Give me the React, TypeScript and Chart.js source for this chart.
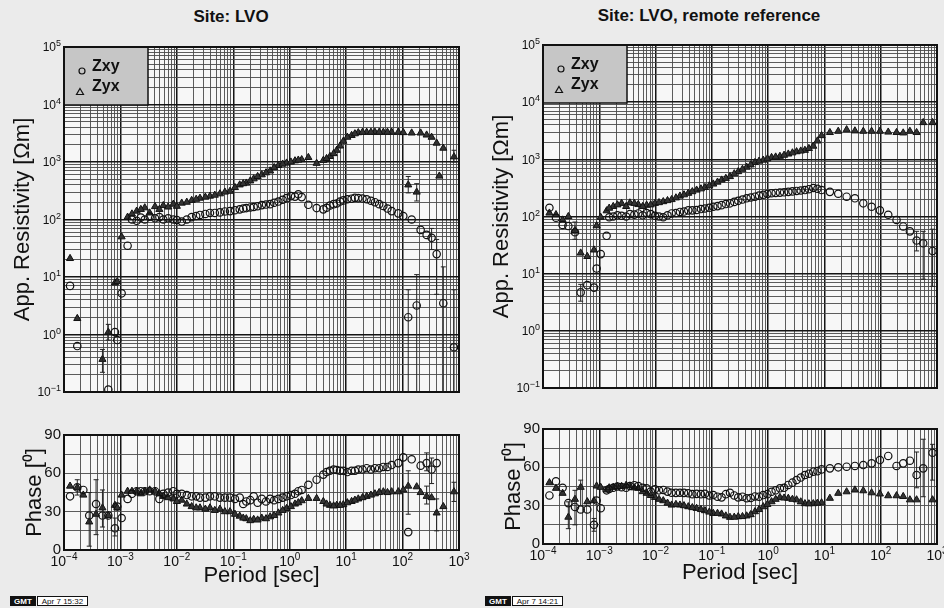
import React, { useEffect, useRef } from 'react';
import { Chart, registerables } from 'chart.js';

Chart.register(...registerables);

const FONT = "'Liberation Sans', Arial, Helvetica, sans-serif";
Chart.defaults.font.family = FONT;

// ---------------- DATA ----------------
// Site LVO (single site) — main band
const lvoPeriod = [1.28e-4, 1.72e-4, 2.2e-4, 2.8e-4, 3.7e-4, 4.8e-4, 6.1e-4, 8.0e-4, 8.8e-4, 1.05e-3, 1.34e-3, 1.94e-3, 2.7e-3, 4.1e-3, 5.75e-3, 8.65e-3, 1.22e-2, 1.83e-2, 2.57e-2, 3.86e-2, 5.8e-2, 8.75e-2, 0.13, 0.17, 0.23, 0.32, 0.45, 0.63, 0.88, 1.24, 1.63, 2.14, 3.0, 3.94, 5.17, 6.8, 8.9, 12.5, 16.4, 23.1, 32.4, 45.6, 64.1, 84, 103, 126, 145, 178, 209, 267, 327, 402, 448, 527, 815];
const lvoRhoXY = [7.0, 0.63, null, null, null, null, 0.11, 1.1, 0.8, 5.2, 35, 95, 100, 105, 100, 100, 92, 110, 120, 130, 133, 140, 150, 158, 165, 178, 185, 205, 235, 250, 245, 180, 158, 150, 175, 190, 215, 230, 235, 225, 200, 172, 140, 128, 115, 2.0, 100, 3.2, 66, 54, 48, 25, null, 3.5, 0.6];
const lvoRhoYX = [21, 1.9, null, null, null, 0.37, 1.1, 7.9, 8.3, 50, 110, 140, 160, 168, 175, 185, 193, 215, 235, 255, 280, 310, 400, 430, 510, 600, 700, 870, 960, 1050, 1100, 1200, 950, 1070, 1250, 1600, 2300, 2900, 3240, 3300, 3300, 3300, 3300, 3300, 3250, 400, 3200, 300, 3200, 2950, 2700, 2130, 570, 1740, 1230];
const lvoPhXY = [42, 49, 47, 27, 36, 27, 27, 17, 34, 25, 40, 46, 46, 46, 44, 46, 44, 42, 41, 42, 41, 41, 41, 38, 42, 40, 40, 40, 42, 44, 47, 51, 55, 59, 62, 62.6, 62, 62, 63, 64, 64, 65, 66.5, 68, 72.5, 14, 71, null, 66, 68, 63, 68, null, null, null];
const lvoPhYX = [50, 49, 43, 22, 28, 33, 27, 35, 33, 43, 46, 46, 46, 46, 42, 40, 39, 34, 33, 33, 32, 30, 26.5, 24.5, 24, 25, 26, 29, 32.5, 36, 38.6, 40.4, 40.4, 38, 35, 35, 35.5, 38, 40, 42, 44, 45.6, 45.6, 45.6, 47, 50, null, 49.5, 45, 42, 41, 29, null, 34, 45.6];
// Site LVO — overlapping second band
const lvoPeriod2 = [1.6e-3, 2.3e-3, 3.3e-3, 4.9e-3, 7.0e-3, 1.0e-2, 1.5e-2, 2.2e-2, 3.2e-2, 4.7e-2, 7.1e-2, 0.107, 0.15, 0.2, 0.27, 0.38, 0.53, 0.75, 1.05, 1.42, 4.5, 6.0, 7.8, 10.5, 14.3, 19.5, 27.5, 38.5, 54];
const lvoRhoXY2 = [100, 108, 112, 110, 105, 98, 100, 115, 125, 130, 138, 145, 155, 162, 170, 182, 195, 220, 255, 275, 160, 185, 205, 225, 238, 232, 212, 185, 155];
const lvoRhoYX2 = [125, 150, 130, 150, 165, 170, 200, 225, 245, 265, 300, 360, 420, 470, 560, 650, 800, 920, 1000, 1080, 1150, 1400, 1900, 2700, 3100, 3300, 3300, 3300, 3300];
const lvoPhXY2 = [44, 46, 46, 40, 45, 44, 43, 42, 41, 42, 41, 40, 36, 39, 37, 38, 39, 41, 43, 46, 61, 63, 62, 61, 62, 63, 63, 64, 65];
const lvoPhYX2 = [46, 44, 47, 44, 41, 38, 36, 33, 32, 31, 30, 28, 25, 23, 23.5, 24.5, 27, 31, 34, 37, 36, 34.5, 35, 37, 39, 41, 43, 45, 45];
// error bars: [period, low, high]
const lvoRhoXYErr = [[126, 0.1, 6], [178, 0.1, 11], [327, 30, 70], [402, 5, 45], [527, 0.1, 15], [815, 0.1, 6]];
const lvoRhoYXErr = [[4.8e-4, 0.22, 0.55], [6.1e-4, 0.8, 1.5], [126, 290, 560], [178, 210, 420], [815, 1000, 1600]];
const lvoPhXYErr = [[1.72e-4, 43, 55], [3.7e-4, 12, 55], [8.0e-4, 11, 25], [267, 62, 76], [327, 52, 72]];
const lvoPhYXErr = [[2.8e-4, 3, 45], [4.8e-4, 18, 47], [126, 28, 62], [267, 36, 50], [402, 15, 40], [815, 38, 53]];

// Site LVO, remote reference — main band
const rrPeriod = [1.3e-4, 1.7e-4, 2.23e-4, 2.82e-4, 3.7e-4, 4.67e-4, 6.12e-4, 8.05e-4, 8.97e-4, 1.06e-3, 1.35e-3, 1.77e-3, 2.49e-3, 3.5e-3, 4.93e-3, 6.93e-3, 9.75e-3, 1.37e-2, 1.93e-2, 2.71e-2, 3.81e-2, 5.36e-2, 7.53e-2, 0.106, 0.149, 0.21, 0.294, 0.415, 0.583, 0.819, 1.15, 1.62, 2.28, 3.2, 4.5, 6.34, 8.9, 12.5, 17.6, 24.8, 34.8, 49, 68.9, 96.8, 136, 191, 251, 330, 434, 569, 834];
const rrRhoXY = [142, 95, 71, 68, 53, 4.7, 6.3, 5.7, 12.3, 22, 46, 100, 103, 110, 113, 115, 103, 97, 113, 120, 128, 130, 138, 148, 158, 170, 188, 208, 222, 240, 255, 262, 270, 280, 290, 315, 290, 270, 250, 222, 208, 170, 148, 128, 107, 87, 67, 55, 38, 34, 25];
const rrRhoYX = [115, 108, 87, 100, 57, 23, 20, 26, 69, 97, 126, 150, 170, 173, 162, 158, 170, 182, 198, 228, 255, 290, 322, 370, 435, 500, 610, 730, 880, 970, 1080, 1130, 1240, 1360, 1440, 1700, 2600, 2950, 3100, 3300, 3150, 3100, 3100, 3100, 3000, 2950, 2900, 3100, 2950, 4400, 4400];
const rrPhXY = [38, 49, 44, 32, 29, 27, 27, 15, 34, 28, 42, 44, 44.5, 45.4, 45.4, 43.6, 42.8, 42.3, 40.1, 40.1, 39.7, 39.2, 39.2, 38.3, 36.5, 40.1, 36.5, 35.8, 37.2, 38.3, 40.9, 43.6, 46.2, 50.1, 54, 56.6, 58.4, 59.2, 60, 60.5, 61.1, 61.8, 63.1, 65.7, 68.9, 61.1, 63.1, 65.2, 54, 59.2, 71.4];
const rrPhYX = [48, 43.6, 39.7, 21, 35, 44.4, 33.1, 33.9, 45.4, 44.4, 42.3, 44.4, 45, 45.4, 43.6, 39.7, 36.5, 33.9, 30.5, 30.5, 29.2, 27.9, 26.1, 24, 23.5, 20.9, 21.4, 22, 25.3, 29.2, 33.1, 36.5, 35.8, 34.6, 31.6, 31.6, 32.3, 35.8, 39.7, 40.9, 42.3, 41.7, 40.1, 39.2, 37.8, 37.8, 37.2, 34.6, 34.6, null, 34.6];
// Remote reference — overlapping second band
const rrPeriod2 = [1.5e-3, 2.1e-3, 3.0e-3, 4.2e-3, 5.9e-3, 8.2e-3, 1.15e-2, 1.63e-2, 2.3e-2, 3.2e-2, 4.5e-2, 6.4e-2, 9.0e-2, 0.126, 0.177, 0.25, 0.35, 0.49, 0.69, 0.97, 1.36, 1.92, 2.7, 3.8, 5.3, 7.5];
const rrRhoXY2 = [97, 105, 100, 108, 105, 110, 100, 105, 115, 122, 128, 135, 142, 152, 165, 180, 198, 215, 232, 248, 258, 265, 275, 285, 300, 305];
const rrRhoYX2 = [140, 160, 150, 170, 150, 160, 175, 190, 212, 240, 272, 305, 345, 400, 465, 560, 670, 800, 930, 1020, 1100, 1180, 1300, 1400, 1550, 2100];
const rrPhXY2 = [43, 45, 44, 46, 44, 41, 42, 41, 40, 40, 39, 39, 38, 37, 39, 38, 37, 36, 37, 39, 42, 44, 48, 52, 55, 57];
const rrPhYX2 = [44, 45, 46, 44, 41, 38, 35, 32, 31, 30, 28.5, 27, 25, 24, 22, 21, 21.5, 23, 27, 31, 35, 36, 35, 33, 31.5, 32];
const rrRhoXYErr = [[4.67e-4, 3.3, 6.5], [434, 25, 55], [569, 8, 55], [834, 6, 60]];
const rrRhoYXErr = [[3.7e-4, 40, 80]];
const rrPhXYErr = [[3.7e-4, 15, 42], [8.05e-4, 10, 20], [434, 44, 72], [569, 37, 82], [834, 50, 78]];
const rrPhYXErr = [[2.82e-4, 12, 33], [4.67e-4, 30, 50]];

// axis ranges / labels
const periodDecades = [-4, 3];
const rhoDecades = [-1, 5];
const phaseRange = [0, 90];
const phaseStep = 15;
const phaseLabelStep = 30;
const seriesLabels = ['Zxy', 'Zyx'];

// ---------------- HELPERS ----------------
const isDecade = (v: number) => Math.abs(Math.log10(v) - Math.round(Math.log10(v))) < 1e-6;
const logTicks = (lo: number, hi: number) => {
  const out: number[] = [];
  for (let e = lo; e < hi; e++) for (let m = 1; m <= 9; m++) out.push(m * Math.pow(10, e));
  out.push(Math.pow(10, hi));
  return out;
};
const pts = (xs: number[], ys: (number | null)[]) =>
  xs.map((x, i) => ({ x, y: ys[i] })).filter((p) => p.y !== null && p.y !== undefined);

const gridColor = (ctx: any) => (ctx.tick && ctx.scale.type === 'logarithmic' && isDecade(ctx.tick.value) ? '#151515' : '#4a4a4a');
const gridWidth = (ctx: any) => (ctx.tick && ctx.scale.type === 'logarithmic' && isDecade(ctx.tick.value) ? 1.5 : 0.9);

const bgPlugin = {
  id: 'areaBg',
  beforeDraw(chart: any) {
    const { ctx, chartArea: a } = chart;
    ctx.save();
    ctx.fillStyle = '#f7f7f7';
    ctx.fillRect(a.left, a.top, a.right - a.left, a.bottom - a.top);
    ctx.restore();
  },
};

const framePlugin = {
  id: 'frame',
  afterDatasetsDraw(chart: any) {
    const { ctx, chartArea: a } = chart;
    ctx.save();
    ctx.lineWidth = 2;
    ctx.strokeStyle = '#111';
    ctx.strokeRect(a.left, a.top, a.right - a.left, a.bottom - a.top);
    ctx.restore();
  },
};

// draws "10" with a raised exponent for every decade tick of the chosen log axes
const powerLabelPlugin = (axis: 'x' | 'y', size: number) => ({
  id: 'powLabels',
  afterDraw(chart: any) {
    const { ctx, chartArea: a } = chart;
    const scale = chart.scales[axis];
    const expSize = Math.round(size * 0.72);
    ctx.save();
    ctx.fillStyle = '#111';
    ctx.textBaseline = 'alphabetic';
    ctx.textAlign = 'left';
    scale.ticks.forEach((t: any) => {
      if (!isDecade(t.value)) return;
      const e = String(Math.round(Math.log10(t.value))).replace('-', '\u2212');
      ctx.font = `${size}px ${FONT}`;
      const w10 = ctx.measureText('10').width;
      ctx.font = `${expSize}px ${FONT}`;
      const wE = ctx.measureText(e).width;
      const p = scale.getPixelForValue(t.value);
      let x0: number, base: number;
      if (axis === 'y') {
        x0 = a.left - 3 - wE - w10;
        base = p + size * 0.36;
      } else {
        x0 = p - (w10 + wE) / 2;
        base = a.bottom + 3 + size * 0.9;
      }
      ctx.font = `${size}px ${FONT}`;
      ctx.fillText('10', x0, base);
      ctx.font = `${expSize}px ${FONT}`;
      ctx.fillText(e, x0 + w10, base - size * 0.42);
    });
    ctx.restore();
  },
});

const legendPlugin = {
  id: 'boxLegend',
  beforeDatasetsDraw(chart: any) {
    const { ctx, chartArea: a } = chart;
    const w = 84, h = 58;
    ctx.save();
    ctx.fillStyle = '#c6c6c6';
    ctx.fillRect(a.left, a.top, w, h);
    ctx.lineWidth = 1.5;
    ctx.strokeStyle = '#111';
    ctx.strokeRect(a.left, a.top, w, h);
    ctx.fillStyle = '#111';
    ctx.font = `bold 16px ${FONT}`;
    ctx.textBaseline = 'middle';
    ctx.textAlign = 'left';
    chart.data.datasets.forEach((ds: any, i: number) => {
      const ty = a.top + 20 + i * 20;
      const my = a.top + 24 + i * 21;
      const mx = a.left + 18 - i * 2;
      ctx.lineWidth = 1.2;
      ctx.beginPath();
      if (ds.pointStyle === 'triangle') {
        ctx.moveTo(mx, my - 3.5);
        ctx.lineTo(mx + 3.5, my + 2.5);
        ctx.lineTo(mx - 3.5, my + 2.5);
        ctx.closePath();
      } else {
        ctx.arc(mx, my, 3, 0, Math.PI * 2);
      }
      ctx.stroke();
      ctx.fillText(ds.label, a.left + 28, ty);
    });
    ctx.restore();
  },
};

const errorPlugin = (sets: number[][][]) => ({
  id: 'errBars',
  afterDatasetsDraw(chart: any) {
    const { ctx, scales } = chart;
    ctx.save();
    ctx.strokeStyle = '#222';
    ctx.lineWidth = 1;
    sets.forEach((items) => {
      items.forEach(([p, lo, hi]) => {
        const x = scales.x.getPixelForValue(p);
        const y1 = scales.y.getPixelForValue(lo);
        const y2 = scales.y.getPixelForValue(hi);
        ctx.beginPath();
        ctx.moveTo(x, y1);
        ctx.lineTo(x, y2);
        ctx.moveTo(x - 2.5, y1);
        ctx.lineTo(x + 2.5, y1);
        ctx.moveTo(x - 2.5, y2);
        ctx.lineTo(x + 2.5, y2);
        ctx.stroke();
      });
    });
    ctx.restore();
  },
});

type Layout = { pad: { top: number; right: number; bottom: number; left: number }; yW: number; xH: number; yTitlePad: number; xTitlePad: number };
type Series = { p: number[]; xy: (number | null)[]; yx: (number | null)[] };

function datasets(bands: Series[]) {
  const xy = bands.flatMap((b) => pts(b.p, b.xy));
  const yx = bands.flatMap((b) => pts(b.p, b.yx));
  return [
    { label: seriesLabels[0], data: xy, pointStyle: 'circle', pointRadius: 3.7, borderWidth: 1.2, borderColor: '#111', backgroundColor: 'rgba(0,0,0,0)' },
    { label: seriesLabels[1], data: yx, pointStyle: 'triangle', pointRadius: 4.1, borderWidth: 1, borderColor: '#111', backgroundColor: '#333' },
  ];
}

function xScale(lay: Layout, showTitle: boolean) {
  return {
    type: 'logarithmic',
    min: Math.pow(10, periodDecades[0]),
    max: Math.pow(10, periodDecades[1]),
    afterBuildTicks: (s: any) => { s.ticks = logTicks(periodDecades[0], periodDecades[1]).map((value) => ({ value })); },
    afterFit: (s: any) => { s.height = lay.xH; },
    ticks: { display: false, autoSkip: false },
    grid: { color: gridColor, lineWidth: gridWidth, drawTicks: false },
    border: { display: false },
    title: { display: showTitle, text: 'Period [sec]', color: '#111', font: { size: 22 }, padding: { top: 0, bottom: lay.xTitlePad } },
  };
}

function rhoConfig(bands: Series[], errs: number[][][], lay: Layout) {
  return {
    type: 'scatter',
    data: { datasets: datasets(bands) },
    options: {
      animation: false,
      responsive: false,
      layout: { padding: lay.pad },
      plugins: { legend: { display: false }, tooltip: { enabled: false } },
      scales: {
        x: xScale(lay, false),
        y: {
          type: 'logarithmic',
          min: Math.pow(10, rhoDecades[0]),
          max: Math.pow(10, rhoDecades[1]),
          afterBuildTicks: (s: any) => { s.ticks = logTicks(rhoDecades[0], rhoDecades[1]).map((value) => ({ value })); },
          afterFit: (s: any) => { s.width = lay.yW; },
          ticks: { display: false, autoSkip: false },
          grid: { color: gridColor, lineWidth: gridWidth, drawTicks: false },
          border: { display: false },
          title: { display: true, text: 'App. Resistivity [\u03A9m]', color: '#111', font: { size: 22 }, padding: { top: lay.yTitlePad, bottom: 0 } },
        },
      },
    },
    plugins: [bgPlugin, legendPlugin, errorPlugin(errs), framePlugin, powerLabelPlugin('y', 12)],
  };
}

function phaseConfig(bands: Series[], errs: number[][][], lay: Layout) {
  return {
    type: 'scatter',
    data: { datasets: datasets(bands) },
    options: {
      animation: false,
      responsive: false,
      layout: { padding: lay.pad },
      plugins: { legend: { display: false }, tooltip: { enabled: false } },
      scales: {
        x: xScale(lay, true),
        y: {
          type: 'linear',
          min: phaseRange[0],
          max: phaseRange[1],
          afterFit: (s: any) => { s.width = lay.yW; },
          ticks: { stepSize: phaseStep, autoSkip: false, padding: 3, color: '#111', font: { size: 15 }, callback: (v: any) => (Number(v) % phaseLabelStep === 0 ? String(v) : '') },
          grid: { color: '#4a4a4a', lineWidth: 0.9, drawTicks: false },
          border: { display: false },
          title: { display: true, text: 'Phase [\u2070]', color: '#111', font: { size: 22 }, padding: { top: lay.yTitlePad, bottom: 0 } },
        },
      },
    },
    plugins: [bgPlugin, errorPlugin(errs), framePlugin, powerLabelPlugin('x', 14)],
  };
}

function ChartBox({ make, left, top, width, height }: { make: () => any; left: number; top: number; width: number; height: number }) {
  const ref = useRef<HTMLCanvasElement>(null);
  useEffect(() => {
    const chart = new Chart(ref.current as HTMLCanvasElement, make());
    return () => chart.destroy();
  }, []);
  return <canvas ref={ref} width={width} height={height} style={{ position: 'absolute', left, top, width, height }} />;
}

function Stamp({ left, text }: { left: number; text: string }) {
  return (
    <div style={{ position: 'absolute', left, top: 596, height: 10, display: 'flex', fontFamily: FONT, fontSize: 8, lineHeight: '10px' }}>
      <span style={{ background: '#111', color: '#fff', fontWeight: 'bold', padding: '0 3px', border: '1px solid #111' }}>GMT</span>
      <span style={{ background: '#fff', color: '#111', padding: '0 4px', border: '1px solid #111', marginLeft: 1 }}>{text}</span>
    </div>
  );
}

export default function App() {
  const lvoBands: Series[] = [{ p: lvoPeriod, xy: lvoRhoXY, yx: lvoRhoYX }, { p: lvoPeriod2, xy: lvoRhoXY2, yx: lvoRhoYX2 }];
  const lvoPhBands: Series[] = [{ p: lvoPeriod, xy: lvoPhXY, yx: lvoPhYX }, { p: lvoPeriod2, xy: lvoPhXY2, yx: lvoPhYX2 }];
  const rrBands: Series[] = [{ p: rrPeriod, xy: rrRhoXY, yx: rrRhoYX }, { p: rrPeriod2, xy: rrRhoXY2, yx: rrRhoYX2 }];
  const rrPhBands: Series[] = [{ p: rrPeriod, xy: rrPhXY, yx: rrPhYX }, { p: rrPeriod2, xy: rrPhXY2, yx: rrPhYX2 }];
  const lvoRhoLay: Layout = { pad: { top: 47, right: 21, bottom: 18, left: 0 }, yW: 64, xH: 0, yTitlePad: 10, xTitlePad: 0 };
  const rrRhoLay: Layout = { pad: { top: 45, right: 23, bottom: 22, left: 0 }, yW: 63, xH: 0, yTitlePad: 9, xTitlePad: 0 };
  const lvoPhLay: Layout = { pad: { top: 35, right: 21, bottom: 0, left: 0 }, yW: 64, xH: 58, yTitlePad: 22, xTitlePad: 19 };
  const rrPhLay: Layout = { pad: { top: 29, right: 23, bottom: 0, left: 0 }, yW: 63, xH: 64, yTitlePad: 21, xTitlePad: 22 };
  return (
    <div style={{ position: 'fixed', left: 0, top: 0, width: 944, height: 608, overflow: 'hidden', background: '#ebebeb' }}>
      <div style={{ position: 'absolute', left: 0, top: 7, width: 462, textAlign: 'center', fontFamily: FONT, fontWeight: 'bold', fontSize: 17, color: '#111' }}>Site: LVO</div>
      <div style={{ position: 'absolute', left: 480, top: 6, width: 458, textAlign: 'center', fontFamily: FONT, fontWeight: 'bold', fontSize: 17, color: '#111' }}>Site: LVO, remote reference</div>
      <ChartBox left={0} top={400} width={480} height={208} make={() => phaseConfig(lvoPhBands, [lvoPhXYErr, lvoPhYXErr], lvoPhLay)} />
      <ChartBox left={480} top={400} width={480} height={208} make={() => phaseConfig(rrPhBands, [rrPhXYErr, rrPhYXErr], rrPhLay)} />
      <ChartBox left={0} top={0} width={480} height={410} make={() => rhoConfig(lvoBands, [lvoRhoXYErr, lvoRhoYXErr], lvoRhoLay)} />
      <ChartBox left={480} top={0} width={480} height={410} make={() => rhoConfig(rrBands, [rrRhoXYErr, rrRhoYXErr], rrRhoLay)} />
      <Stamp left={10} text="Apr 7 15:32" />
      <Stamp left={485} text="Apr 7 14:21" />
    </div>
  );
}
